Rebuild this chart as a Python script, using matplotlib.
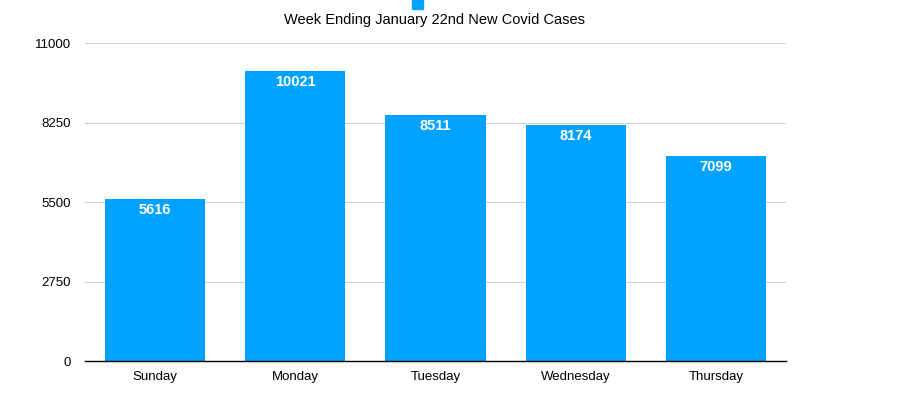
import matplotlib
matplotlib.use("Agg")
import matplotlib.pyplot as plt
import numpy as np

plt.rcParams['font.family'] = ['Liberation Sans', 'DejaVu Sans']

days = ['Sunday', 'Monday', 'Tuesday', 'Wednesday', 'Thursday']
cases = [5616, 10021, 8511, 8174, 7099]
yticks = [0, 2750, 5500, 8250, 11000]
bar_color = '#00A2FF'

W, H = 899, 396
fig = plt.figure(figsize=(W / 100, H / 100), dpi=100)
ax = fig.add_axes([85 / W, (H - 361) / H, (786 - 85) / W, (361 - 43) / H])

x = np.arange(len(days))
bars = ax.bar(x, cases, width=100 / 140, color=bar_color, zorder=2)

for b, v in zip(bars, cases):
    ax.annotate(str(v), (b.get_x() + b.get_width() / 2, v), xytext=(0, -8),
                textcoords='offset points', ha='center', va='center',
                color='white', fontsize=10.5, fontweight='bold', zorder=3)

ax.set_xlim(-0.5, len(days) - 0.5)
ax.set_ylim(0, 11000)
ax.set_yticks(yticks)
ax.set_yticklabels([str(t) for t in yticks], fontsize=9.5)
ax.set_xticks(x)
ax.set_xticklabels(days, fontsize=9.5)
ax.tick_params(axis='both', length=0)
ax.tick_params(axis='y', pad=10)
ax.tick_params(axis='x', pad=7)
ax.yaxis.grid(True, color='#d0d0d0', linewidth=0.8, zorder=0)
for s in ['top', 'right', 'left']:
    ax.spines[s].set_visible(False)
ax.spines['bottom'].set_color('black')
ax.spines['bottom'].set_linewidth(1)
ax.spines['bottom'].set_zorder(4)

fig.text(435 / W, 1 - 20 / H, 'Week Ending January 22nd New Covid Cases',
         ha='center', va='center', fontsize=10.5)
fig.patches.append(plt.Rectangle((412 / W, 1 - 9 / H), 11 / W, 9 / H,
                                 transform=fig.transFigure, color=bar_color))

fig.savefig('out.png', dpi=100)
